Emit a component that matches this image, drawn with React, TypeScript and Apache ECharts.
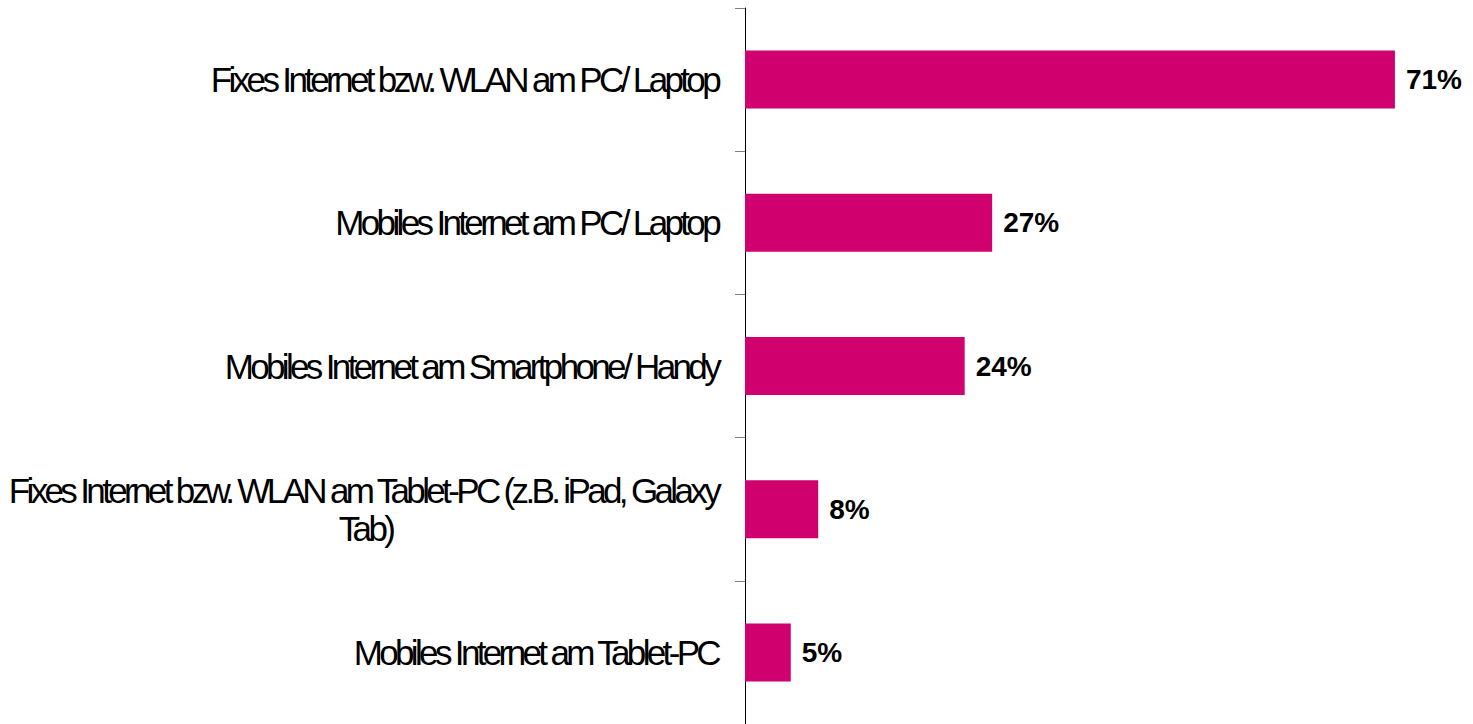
import React, { useEffect, useRef } from 'react';
import * as echarts from 'echarts';

const categories = [
  'Fixes Internet bzw. WLAN am PC/ Laptop',
  'Mobiles Internet am PC/ Laptop',
  'Mobiles Internet am Smartphone/ Handy',
  'Fixes Internet bzw. WLAN am Tablet-PC (z.B. iPad, Galaxy\nTab)',
  'Mobiles Internet am Tablet-PC',
];
const values = [71, 27, 24, 8, 5];
const valueSuffix = '%';

const BAR_COLOR = '#D1006F';
const FONT = '"Liberation Sans", Arial, Helvetica, sans-serif';
const LABEL_SPACING = '-3.65px';

export default function App() {
  const ref = useRef<HTMLDivElement>(null);

  useEffect(() => {
    if (!ref.current) return;
    const chart = echarts.init(ref.current, undefined, { renderer: 'svg' });

    const fix = () => {
      const root = ref.current;
      if (!root) return;
      const svg = root.querySelector('svg');
      if (!svg) return;
      const lines = new Set<string>();
      categories.forEach((c) => c.split('\n').forEach((l) => lines.add(l.trim())));
      const els = Array.from(svg.querySelectorAll('text, tspan')) as SVGGraphicsElement[];
      const byText: Record<string, SVGGraphicsElement> = {};
      els.forEach((el) => {
        if (el.children && el.children.length > 0) return;
        const s = (el.textContent || '').trim();
        if (lines.has(s)) {
          (el as any).style.letterSpacing = LABEL_SPACING;
          byText[s] = el;
        }
      });
      categories.forEach((c) => {
        const parts = c.split('\n').map((p) => p.trim());
        if (parts.length < 2) return;
        const first = byText[parts[0]];
        if (!first) return;
        try {
          const bb = first.getBBox();
          const cx = bb.x + bb.width / 2;
          for (let i = 1; i < parts.length; i++) {
            const el = byText[parts[i]];
            if (!el) continue;
            el.setAttribute('x', String(cx));
            el.setAttribute('text-anchor', 'middle');
            (el as any).style.textAnchor = 'middle';
          }
        } catch (e) {
          /* ignore */
        }
      });
    };

    chart.on('finished', fix);

    chart.setOption({
      animation: false,
      grid: {
        left: 745,
        right: 14,
        top: 8,
        bottom: 0,
        containLabel: false,
        outerBoundsMode: 'none',
      },
      xAxis: {
        type: 'value',
        min: 0,
        max: 78,
        show: false,
        splitLine: { show: false },
      },
      yAxis: {
        type: 'category',
        inverse: true,
        data: categories,
        axisLine: { show: true, lineStyle: { color: '#000', width: 1 } },
        axisTick: { show: true, length: 10, lineStyle: { color: '#7f7f7f', width: 1 } },
        axisLabel: {
          margin: 27,
          color: '#000',
          fontSize: 35,
          fontFamily: FONT,
          lineHeight: 38,
          align: 'right',
        },
        splitLine: { show: false },
      },
      series: [
        {
          type: 'bar',
          data: values,
          barWidth: 58,
          silent: true,
          itemStyle: { color: BAR_COLOR },
          label: {
            show: true,
            position: 'right',
            distance: 11,
            formatter: (p: any) => `${p.value}${valueSuffix}`,
            color: '#000',
            fontSize: 28,
            fontWeight: 'bold',
            fontFamily: FONT,
          },
        },
      ],
    });
    fix();
    const raf = requestAnimationFrame(fix);

    return () => {
      cancelAnimationFrame(raf);
      chart.dispose();
    };
  }, []);

  return (
    <div
      ref={ref}
      style={{ position: 'fixed', left: 0, top: 0, width: 1473, height: 724, background: '#fff' }}
    />
  );
}
